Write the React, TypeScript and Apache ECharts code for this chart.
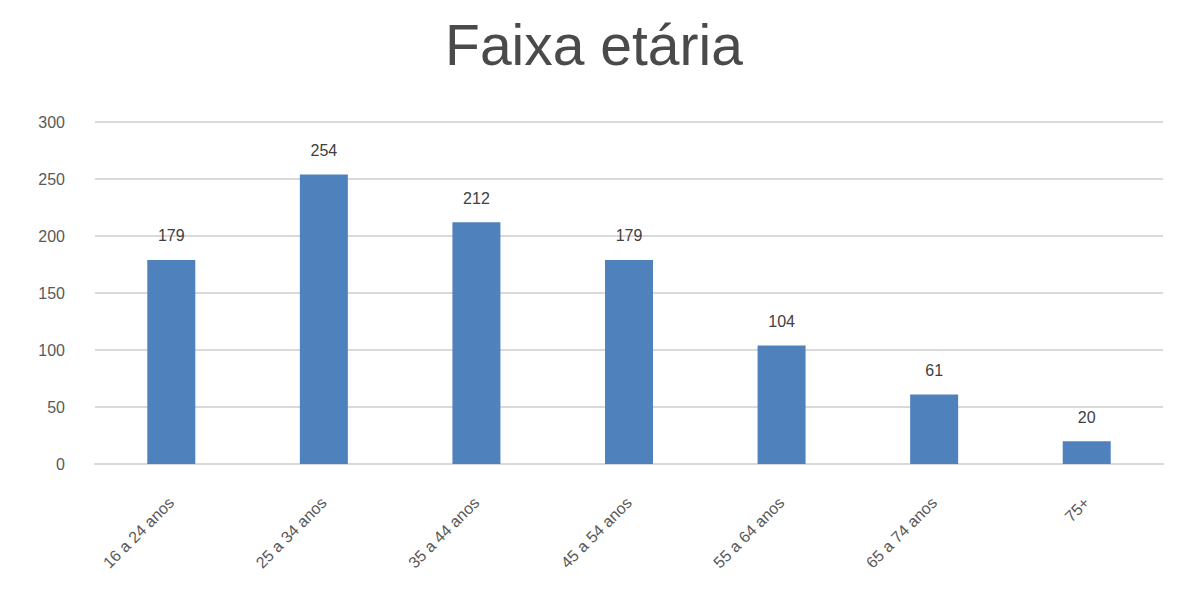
import React, { useEffect, useRef } from "react";
import * as echarts from "echarts";

const titleText = "Faixa etária";
const categories = ["16 a 24 anos", "25 a 34 anos", "35 a 44 anos", "45 a 54 anos", "55 a 64 anos", "65 a 74 anos", "75+"];
const values = [179, 254, 212, 179, 104, 61, 20];
const yTicks = { min: 0, max: 300, interval: 50 };

export default function App() {
  const ref = useRef<HTMLDivElement>(null);
  useEffect(() => {
    if (!ref.current) return;
    const chart = echarts.init(ref.current, null, { renderer: "svg" });
    chart.setOption({
      animation: false,
      title: {
        text: titleText,
        left: "center",
        top: 3,
        textStyle: { fontFamily: "Liberation Sans", fontSize: 57, fontWeight: "normal", color: "#4a4a4a" },
      },
      grid: { left: 87, right: 17, top: 114, bottom: 120 },
      xAxis: {
        type: "category",
        data: categories,
        axisLine: { lineStyle: { color: "#d9d9d9", width: 2 } },
        axisTick: { show: false },
        axisLabel: {
          rotate: 45,
          margin: 36,
          interval: 0,
          color: "#595959",
          fontFamily: "Liberation Sans",
          fontSize: 16,
        },
      },
      yAxis: {
        type: "value",
        min: yTicks.min,
        max: yTicks.max,
        interval: yTicks.interval,
        axisLine: { show: false },
        axisTick: { show: false },
        splitLine: { lineStyle: { color: "#d9d9d9", width: 2 } },
        axisLabel: { margin: 30, color: "#595959", fontFamily: "Liberation Sans", fontSize: 16 },
      },
      series: [
        {
          type: "bar",
          data: values,
          barWidth: 48,
          itemStyle: { color: "#4f81bd" },
          label: {
            show: true,
            position: "top",
            distance: 16,
            color: "#404040",
            fontFamily: "Liberation Sans",
            fontSize: 16,
          },
        },
      ],
    });
    return () => chart.dispose();
  }, []);
  return <div ref={ref} style={{ width: 1172, height: 576 }} />;
}
